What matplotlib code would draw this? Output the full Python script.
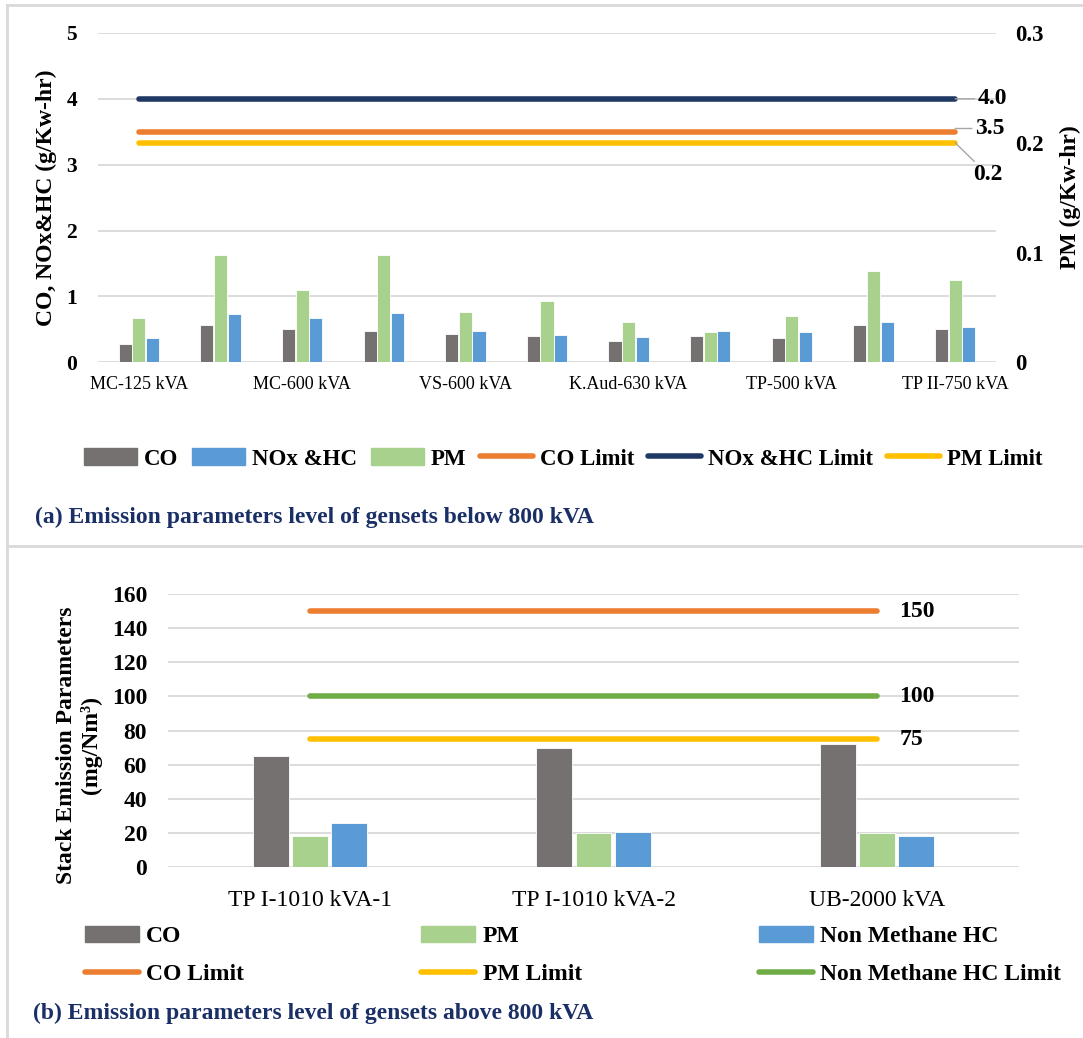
import numpy as np
import matplotlib
matplotlib.use('Agg')
import matplotlib.pyplot as plt
from matplotlib.lines import Line2D
from matplotlib.patches import Patch

plt.rcParams['font.family'] = 'Liberation Serif'

# gensets below 800 kVA (g/Kw-hr)
small_sets = ['MC-125 kVA', '', 'MC-600 kVA', '', 'VS-600 kVA', '',
              'K.Aud-630 kVA', '', 'TP-500 kVA', '', 'TP II-750 kVA']
co_small = [0.28, 0.56, 0.50, 0.48, 0.43, 0.40, 0.33, 0.40, 0.37, 0.56, 0.51]
nox_hc_small = [0.37, 0.73, 0.68, 0.75, 0.48, 0.41, 0.39, 0.47, 0.46, 0.61, 0.54]
pm_small = [0.040, 0.098, 0.066, 0.098, 0.046, 0.056, 0.037, 0.028, 0.042, 0.083, 0.075]
co_limit_small = 3.5
nox_hc_limit_small = 4.0
pm_limit_small = 0.2

# gensets above 800 kVA (mg/Nm3)
large_sets = ['TP I-1010 kVA-1', 'TP I-1010 kVA-2', 'UB-2000 kVA']
co_large = [65.2, 70.0, 72.4]
pm_large = [18.3, 20.3, 20.3]
nmhc_large = [25.8, 20.7, 18.5]
co_limit_large = 150
pm_limit_large = 75
nmhc_limit_large = 100

GRAY = '#767171'
BLUE = '#5B9BD5'
GREEN = '#A9D18E'
ORANGE = '#ED7D31'
NAVY = '#203864'
YELLOW = '#FFC000'
DKGREEN = '#70AD47'
GRID = '#D9D9D9'
CAPTION = '#1A2F66'

W, H = 1083, 1038
fig = plt.figure(figsize=(W / 100, H / 100), dpi=100)


def fx(px):
    return px / W


def fy(py):
    return 1 - py / H


# light frame lines
fig.add_artist(Line2D([fx(7), 1], [fy(5), fy(5)], color=GRID, lw=2))
fig.add_artist(Line2D([fx(7), fx(7)], [fy(5), 0], color=GRID, lw=2))
fig.add_artist(Line2D([fx(7), 1], [fy(545.5), fy(545.5)], color=GRID, lw=2))

# ---------- (a) below 800 kVA ----------
ax = fig.add_axes([fx(98), fy(362.3), fx(898), 329.3 / H])
ax2 = ax.twinx()
x = np.arange(len(small_sets))
bw, off = 0.16, 0.167

ax.bar(x - off, co_small, bw, color=GRAY, edgecolor='white', lw=0.6, zorder=2)
ax.bar(x + off, nox_hc_small, bw, color=BLUE, edgecolor='white', lw=0.6, zorder=2)
ax2.bar(x, pm_small, bw, color=GREEN, edgecolor='white', lw=0.6, zorder=2)

ax.plot([x[0], x[-1]], [co_limit_small] * 2, color=ORANGE, lw=4, solid_capstyle='round', zorder=3)
ax.plot([x[0], x[-1]], [nox_hc_limit_small] * 2, color=NAVY, lw=4, solid_capstyle='round', zorder=3)
ax2.plot([x[0], x[-1]], [pm_limit_small] * 2, color=YELLOW, lw=4, solid_capstyle='round', zorder=3)

lead = dict(arrowstyle='-', color='#A6A6A6', lw=1, shrinkA=0, shrinkB=0)
ax.annotate(f'{nox_hc_limit_small:.1f}', xy=(x[-1], nox_hc_limit_small), xytext=(16, 0),
            textcoords='offset points', ha='left', va='center', fontsize=17,
            fontweight='bold', arrowprops=lead)
ax.annotate(f'{co_limit_small:.1f}', xy=(x[-1], co_limit_small + 0.05), xytext=(14, 0),
            textcoords='offset points', ha='left', va='center', fontsize=17,
            fontweight='bold', arrowprops=lead)
ax2.annotate(f'{pm_limit_small:.1f}', xy=(x[-1], pm_limit_small), xytext=(13, -23),
             textcoords='offset points', ha='left', va='center', fontsize=17,
             fontweight='bold', arrowprops=lead)

ax.set_xlim(-0.5, len(small_sets) - 0.5)
ax.set_ylim(0, 5)
ax2.set_ylim(0, 0.3)
ax.set_yticks(range(6))
ax2.set_yticks([0, 0.1, 0.2, 0.3])
ax2.set_yticklabels(['0', '0.1', '0.2', '0.3'])
ax.set_xticks(x)
ax.set_xticklabels(small_sets, fontsize=13)
ax.tick_params(axis='x', length=0, pad=10)
ax.tick_params(axis='y', length=0, pad=15, labelsize=15.5)
ax2.tick_params(axis='y', length=0, pad=14, labelsize=16.5)
for t in ax.get_yticklabels() + ax2.get_yticklabels():
    t.set_fontweight('bold')
ax.yaxis.grid(True, color=GRID, lw=1.3)
ax.set_axisbelow(True)
for a in (ax, ax2):
    for s in a.spines.values():
        s.set_visible(False)

fig.text(fx(46), fy(198), 'CO, NOx&HC (g/Kw-hr)', rotation=90, ha='center', va='center',
         fontsize=17, fontweight='bold')
fig.text(fx(1070), fy(197), 'PM (g/Kw-hr)', rotation=90, ha='center', va='center',
         fontsize=17, fontweight='bold')

handles_a = [Patch(color=GRAY), Patch(color=BLUE), Patch(color=GREEN),
             Line2D([], [], color=ORANGE, lw=4, solid_capstyle='round'),
             Line2D([], [], color=NAVY, lw=4, solid_capstyle='round'),
             Line2D([], [], color=YELLOW, lw=4, solid_capstyle='round')]
labels_a = ['CO', 'NOx &HC', 'PM', 'CO Limit', 'NOx &HC Limit', 'PM Limit']
fig.legend(handles_a, labels_a, loc='center', bbox_to_anchor=(fx(563), fy(459)), ncol=6,
           frameon=False, prop={'size': 16.5, 'weight': 'bold'}, handlelength=2.3,
           handletextpad=0.3, columnspacing=0.62)

fig.text(fx(35), fy(517), '(a) Emission parameters level of gensets below 800 kVA',
         ha='left', va='center', fontsize=17, fontweight='bold', color=CAPTION)

# ---------- (b) above 800 kVA ----------
bx = fig.add_axes([fx(168), fy(867.3), fx(851), 273.3 / H])
xb = np.arange(len(large_sets))
bw2, off2 = 0.126, 0.138
bx.bar(xb - off2, co_large, bw2, color=GRAY, edgecolor='white', lw=0.6, zorder=2)
bx.bar(xb, pm_large, bw2, color=GREEN, edgecolor='white', lw=0.6, zorder=2)
bx.bar(xb + off2, nmhc_large, bw2, color=BLUE, edgecolor='white', lw=0.6, zorder=2)

for lim, col in [(co_limit_large, ORANGE), (nmhc_limit_large, DKGREEN), (pm_limit_large, YELLOW)]:
    bx.plot([xb[0], xb[-1]], [lim, lim], color=col, lw=4, solid_capstyle='round', zorder=3)
    bx.annotate(str(lim), xy=(xb[-1], lim), xytext=(16, 0), textcoords='offset points',
                ha='left', va='center', fontsize=17, fontweight='bold')

bx.set_xlim(-0.5, len(large_sets) - 0.5)
bx.set_ylim(0, 160)
bx.set_yticks(range(0, 161, 20))
bx.set_xticks(xb)
bx.set_xticklabels(large_sets, fontsize=17)
bx.tick_params(axis='x', length=0, pad=16)
bx.tick_params(axis='y', length=0, pad=15, labelsize=17)
for t in bx.get_yticklabels():
    t.set_fontweight('bold')
bx.yaxis.grid(True, color=GRID, lw=1.3)
bx.set_axisbelow(True)
for s in bx.spines.values():
    s.set_visible(False)

fig.text(fx(79), fy(745), 'Stack Emission Parameters\n(mg/Nm³)', rotation=90, ha='center',
         va='center', multialignment='center', fontsize=17, fontweight='bold')

co_l = Line2D([], [], color=ORANGE, lw=4, solid_capstyle='round')
pm_l = Line2D([], [], color=YELLOW, lw=4, solid_capstyle='round')
nm_l = Line2D([], [], color=DKGREEN, lw=4, solid_capstyle='round')
handles_b = [Patch(color=GRAY), co_l, Patch(color=GREEN), pm_l, Patch(color=BLUE), nm_l]
labels_b = ['CO', 'CO Limit', 'PM', 'PM Limit', 'Non Methane HC', 'Non Methane HC Limit']
fig.legend(handles_b, labels_b, loc='center', bbox_to_anchor=(fx(573), fy(955.5)), ncol=3,
           frameon=False, prop={'size': 17, 'weight': 'bold'}, handlelength=2.3,
           handletextpad=0.3, columnspacing=7.5, labelspacing=0.68)

fig.text(fx(33), fy(1013), '(b) Emission parameters level of gensets above 800 kVA',
         ha='left', va='center', fontsize=17, fontweight='bold', color=CAPTION)

fig.savefig('out.png', dpi=100)
